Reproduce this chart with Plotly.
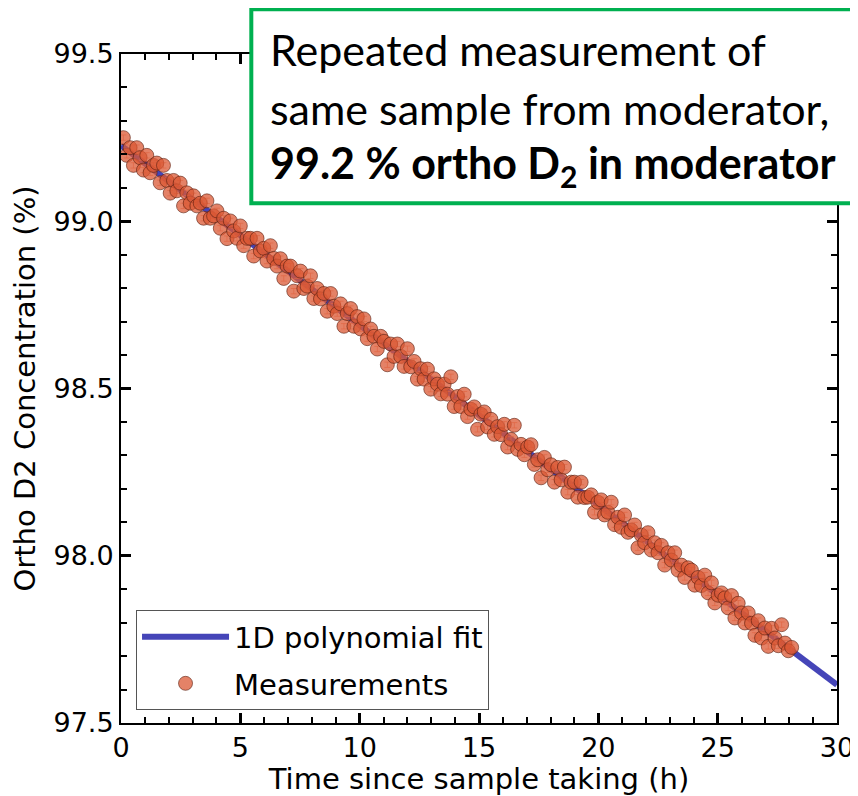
import numpy as np
import plotly.graph_objects as go

# Measurement times (h)
times = [
    0.10, 0.24, 0.38, 0.52, 0.66, 0.80, 0.94, 1.08, 1.22, 1.36,
    1.50, 1.64, 1.78, 1.92, 2.06, 2.20, 2.34, 2.48, 2.62, 2.76,
    2.90, 3.04, 3.18, 3.32, 3.46, 3.60, 3.74, 3.88, 4.02, 4.16,
    4.30, 4.44, 4.58, 4.72, 4.86, 5.00, 5.14, 5.28, 5.42, 5.56,
    5.70, 5.84, 5.98, 6.12, 6.26, 6.40, 6.54, 6.68, 6.82, 6.96,
    7.10, 7.24, 7.38, 7.52, 7.66, 7.80, 7.94, 8.08, 8.22, 8.36,
    8.50, 8.64, 8.78, 8.92, 9.06, 9.20, 9.34, 9.48, 9.62, 9.76,
    9.90, 10.04, 10.18, 10.32, 10.46, 10.60, 10.74, 10.88, 11.02, 11.16,
    11.30, 11.44, 11.58, 11.72, 11.86, 12.00, 12.14, 12.28, 12.42, 12.56,
    12.70, 12.84, 12.98, 13.12, 13.26, 13.40, 13.54, 13.68, 13.82, 13.96,
    14.10, 14.24, 14.38, 14.52, 14.66, 14.80, 14.94, 15.08, 15.22, 15.36,
    15.50, 15.64, 15.78, 15.92, 16.06, 16.20, 16.34, 16.48, 16.62, 16.76,
    16.90, 17.04, 17.18, 17.32, 17.46, 17.60, 17.74, 17.88, 18.02, 18.16,
    18.30, 18.44, 18.58, 18.72, 18.86, 19.00, 19.14, 19.28, 19.42, 19.56,
    19.70, 19.84, 19.98, 20.12, 20.26, 20.40, 20.54, 20.68, 20.82, 20.96,
    21.10, 21.24, 21.38, 21.52, 21.66, 21.80, 21.94, 22.08, 22.22, 22.36,
    22.50, 22.64, 22.78, 22.92, 23.06, 23.20, 23.34, 23.48, 23.62, 23.76,
    23.90, 24.04, 24.18, 24.32, 24.46, 24.60, 24.74, 24.88, 25.02, 25.16,
    25.30, 25.44, 25.58, 25.72, 25.86, 26.00, 26.14, 26.28, 26.42, 26.56,
    26.70, 26.84, 26.98, 27.12, 27.26, 27.40, 27.54, 27.68, 27.82, 27.96,
    28.10,
]

# Ortho D2 concentration (%)
ortho_d2 = [
    99.250, 99.197, 99.220, 99.167, 99.220, 99.190, 99.153, 99.197, 99.145, 99.167,
    99.174, 99.115, 99.167, 99.122, 99.084, 99.122, 99.091, 99.114, 99.046, 99.085,
    99.054, 99.076, 99.046, 99.054, 99.009, 99.061, 99.009, 99.016, 99.031, 98.979,
    99.009, 98.948, 99.001, 98.971, 98.949, 98.986, 98.927, 98.949, 98.949, 98.896,
    98.949, 98.911, 98.919, 98.881, 98.927, 98.889, 98.866, 98.888, 98.829, 98.866,
    98.866, 98.791, 98.837, 98.851, 98.799, 98.806, 98.837, 98.769, 98.799, 98.768,
    98.784, 98.731, 98.784, 98.746, 98.724, 98.753, 98.686, 98.724, 98.739, 98.686,
    98.715, 98.678, 98.708, 98.649, 98.678, 98.656, 98.618, 98.656, 98.641, 98.571,
    98.633, 98.596, 98.633, 98.596, 98.566, 98.619, 98.565, 98.581, 98.528, 98.559,
    98.528, 98.558, 98.498, 98.529, 98.513, 98.484, 98.513, 98.483, 98.535, 98.446,
    98.476, 98.446, 98.483, 98.416, 98.438, 98.445, 98.378, 98.423, 98.430, 98.385,
    98.408, 98.363, 98.386, 98.362, 98.393, 98.325, 98.348, 98.390, 98.318, 98.333,
    98.302, 98.325, 98.332, 98.273, 98.287, 98.233, 98.294, 98.257, 98.272, 98.220,
    98.264, 98.227, 98.265, 98.190, 98.220, 98.220, 98.175, 98.220, 98.174, 98.175,
    98.182, 98.130, 98.160, 98.167, 98.122, 98.130, 98.160, 98.093, 98.115, 98.085,
    98.122, 98.070, 98.077, 98.092, 98.024, 98.062, 98.039, 98.069, 98.017, 98.039,
    98.009, 98.031, 97.972, 98.009, 97.987, 98.009, 97.957, 97.972, 97.935, 97.964,
    97.957, 97.912, 97.935, 97.911, 97.942, 97.889, 97.919, 97.859, 97.882, 97.889,
    97.874, 97.844, 97.881, 97.814, 97.858, 97.829, 97.799, 97.829, 97.798, 97.762,
    97.806, 97.754, 97.784, 97.729, 97.783, 97.754, 97.731, 97.794, 97.739, 97.716,
    97.726,
]

meas_error = 0.008  # measurement uncertainty (%)

fit_x = [0, 30]
coef = np.polyfit(times, ortho_d2, 1)
fit_y = list(np.polyval(coef, fit_x))

x_tickvals = [0, 5, 10, 15, 20, 25, 30]
y_tickvals = [97.5, 98.0, 98.5, 99.0, 99.5]
y_ticktext = ["97.5", "98.0", "98.5", "99.0", "99.5"]

fig = go.Figure()

fig.add_trace(go.Scatter(
    x=fit_x, y=fit_y, mode="lines", name="1D polynomial fit", legendgroup="fit",
    line=dict(color="#4545b8", width=6),
))

fig.add_trace(go.Scatter(
    x=times, y=ortho_d2, mode="markers", name="Measurements", legendgroup="meas",
    marker=dict(size=14, color="rgba(219,88,52,0.75)",
                line=dict(color="rgba(90,30,15,0.6)", width=1)),
    error_y=dict(type="constant", value=meas_error, color="rgba(240,140,110,0.7)",
                 thickness=1, width=3),
))

axis_font = dict(family="DejaVu Sans", size=27, color="black")
title_font = dict(family="DejaVu Sans", size=29, color="black")

# page body has an 8px margin, so the figure is 8px smaller than the window
fig.update_layout(
    width=850, height=788,
    margin=dict(l=113, r=21, t=46, b=73),
    paper_bgcolor="white", plot_bgcolor="white",
    font=dict(family="DejaVu Sans", color="black"),
    showlegend=True,
    legend=dict(
        x=0.021, y=0.019, xanchor="left", yanchor="bottom",
        bordercolor="#555555", borderwidth=1, bgcolor="white",
        font=dict(family="DejaVu Sans", size=29, color="black"),
        tracegroupgap=6, traceorder="grouped", itemwidth=87,
    ),
    xaxis=dict(
        range=[0, 30], tickvals=x_tickvals, ticks="inside", ticklen=10, tickwidth=3,
        tickcolor="black", showline=True, linecolor="black", linewidth=2,
        mirror="ticks", showgrid=False, zeroline=False, tickfont=axis_font,
        automargin=False,
        minor=dict(dtick=1, ticks="inside", ticklen=6, tickwidth=1.5, tickcolor="black", showgrid=False),
        title=dict(text="Time since sample taking (h)", font=title_font, standoff=2),
    ),
    yaxis=dict(
        range=[97.5, 99.5], tickvals=y_tickvals, ticktext=y_ticktext, ticks="inside",
        ticklen=10, tickwidth=3, tickcolor="black", showline=True, linecolor="black",
        linewidth=2, mirror="ticks", showgrid=False, zeroline=False, tickfont=axis_font,
        automargin=False,
        minor=dict(dtick=0.1, ticks="inside", ticklen=6, tickwidth=1.5, tickcolor="black", showgrid=False),
        title=dict(text="Ortho D2 Concentration (%)", font=title_font, standoff=16),
    ),
)

# Annotation box (green border, white fill) overlapping the top-right
fig.add_shape(type="rect", xref="paper", yref="paper",
              x0=0.182, x1=1.046, y0=0.777, y1=1.067,
              line=dict(color="#00b050", width=4), fillcolor="white", layer="above")

box_font = dict(family="Lato", size=43, color="black")
fig.add_annotation(xref="paper", yref="paper", x=0.205, y=1.006, xanchor="left", yanchor="middle",
                   text="Repeated measurement of", showarrow=False, font=box_font)
fig.add_annotation(xref="paper", yref="paper", x=0.205, y=0.919, xanchor="left", yanchor="middle",
                   text="same sample from moderator,", showarrow=False, font=box_font)
fig.add_annotation(xref="paper", yref="paper", x=0.205, y=0.834, xanchor="left", yanchor="middle",
                   text="<b>99.2 % ortho D<sub>2</sub> in moderator</b>", showarrow=False, font=box_font)

fig.write_html("out.html")
